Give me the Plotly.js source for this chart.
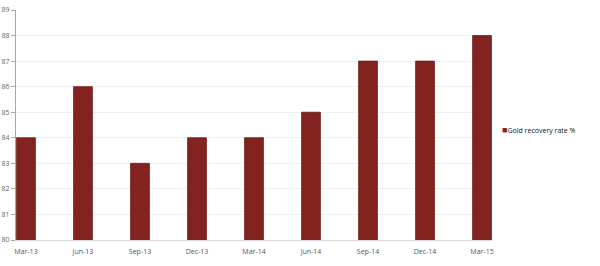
<!DOCTYPE html>
<html>
<head>
<meta charset="utf-8">
<script src="https://cdn.plot.ly/plotly-3.0.1.min.js"></script>
<style>html,body{margin:0;padding:0;background:#fff;}#chart{width:600px;height:266px;}</style>
</head>
<body>
<div id="chart"></div>
<script>
const categories = ["Mar-13","Jun-13","Sep-13","Dec-13","Mar-14","Jun-14","Sep-14","Dec-14","Mar-15"];
const goldRecovery = [84, 86, 83, 84, 84, 85, 87, 87, 88];
const yTicks = [80, 81, 82, 83, 84, 85, 86, 87, 88, 89];
const seriesName = "Gold recovery rate %";
const barColor = "#82231f";

const trace = {
  type: "bar",
  x: categories,
  y: goldRecovery,
  name: seriesName,
  width: 0.33,
  marker: { color: barColor, line: { color: "#6e1a17", width: 0.8 } },
  showlegend: false
};

const layout = {
  width: 600, height: 266,
  margin: { l: 16, r: 108, t: 10, b: 26, autoexpand: false },
  paper_bgcolor: "#ffffff",
  plot_bgcolor: "#ffffff",
  font: { family: "Open Sans, Noto Sans, sans-serif", size: 7, color: "#555" },
  bargap: 0,
  xaxis: {
    type: "category",
    range: [-0.175, 8.175],
    showgrid: false,
    showline: true, linecolor: "#d9d9d9", linewidth: 1,
    ticks: "outside", ticklen: 5, tickcolor: "rgba(0,0,0,0)",
    tickfont: { size: 7, color: "#555" },
    fixedrange: true
  },
  yaxis: {
    range: [80, 89],
    tickvals: yTicks,
    showgrid: true, gridcolor: "#f0f0f0", gridwidth: 1,
    zeroline: false,
    showline: true, linecolor: "#a6a6a6", linewidth: 1,
    ticks: "outside", ticklen: 4, tickcolor: "#a6a6a6",
    tickfont: { size: 7, color: "#666" },
    fixedrange: true
  },
  showlegend: false,
  annotations: [{
    xref: "paper", yref: "paper",
    x: 1.017, y: 0.48, xanchor: "left", yanchor: "middle",
    showarrow: false,
    text: "<span style='color:" + barColor + ";font-size:9px'>■</span>" + seriesName,
    font: { family: "Open Sans, Noto Sans, sans-serif", size: 7, color: "#111" }
  }]
};

Plotly.newPlot("chart", [trace], layout, { displayModeBar: false, staticPlot: true });
</script>
</body>
</html>
